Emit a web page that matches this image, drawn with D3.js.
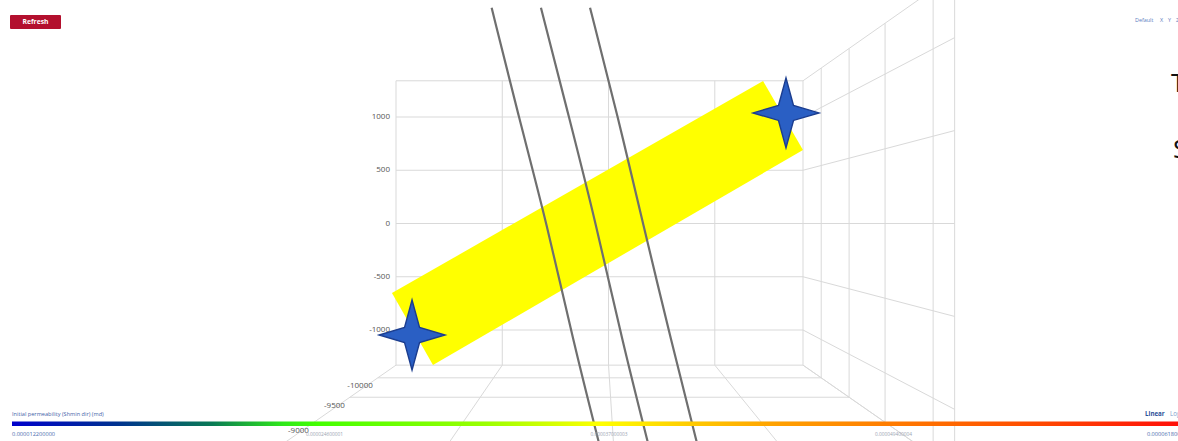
<!DOCTYPE html>
<html>
<head>
<meta charset="utf-8">
<script src="https://cdn.jsdelivr.net/npm/d3@7"></script>
<style>
  html, body { margin: 0; padding: 0; background: #ffffff; }
  svg { display: block; font-family: "Open Sans", "Noto Sans", sans-serif; }
</style>
</head>
<body>
<svg id="chart" width="1178" height="441"></svg>
<script>
// ---------------- data ----------------
const xExtent = [-2000, 1830];
const yExtent = [-1330, 1340];
const zExtent = [-10400, -8320];
const xTicks = [-1000, 0, 1000];
const yTicks = [-1000, -500, 0, 500, 1000];
const zTicks = [-10000, -9500, -9000, -8500];
const zLabelTicks = [-10000, -9500, -9000];

// wells, as [x, y] on the back plane
const well1 = [[-1100, 2025], [-845, 1000], [-580, 0], [-335, -1095], [-80, -2100]];
const well2 = [[-636, 2025], [-372, 1000], [-118, 0], [127, -1095], [381, -2100]];
const well3 = [[-174, 2025], [89, 1000], [324, 0], [588, -1095], [842, -2100]];

// yellow band corners [x, y]
const bandCorners = [[-2038, -653], [-1652, -1329], [1830, 690], [1454, 1338]];
// star markers [x, y]
const starPoints = [[-1849, -1047], [1670, 1038]];

// colour bar
const legendTitle = "Initial permeability (Shmin dir) (md)";
const legendMin = 0.0000122;
const legendMax = 0.0000618;
const legendLabels = ["0.000012200000", "0.000024600001", "0.000037000003", "0.000049400004", "0.000061800006"];
const legendColors = ["#0000cc", "#00338f", "#0a7a55", "#2fe81a", "#44ff00", "#99ff00", "#ffff00", "#ffc800", "#ffa000", "#ff7a00", "#ff4a00", "#ff0a0a"];
const legendStops = [0, 0.09, 0.17, 0.23, 0.26, 0.4, 0.5, 0.58, 0.65, 0.75, 0.87, 1];

// ---------------- projection ----------------
const svg = d3.select("#chart");
const VP = { x: 599.5, y: 223.5 };
const xs = d3.scaleLinear().domain(xExtent).range([-203.5, 203.5]);
const ys = d3.scaleLinear().domain([-1000, 1000]).range([106.5, -106.5]);
const zs = d3.scaleLinear().domain(zExtent).range([1, 0.573]); // inverse depth factor
function P(x, y, z) {
  const s = 1 / zs(z);
  return [VP.x + xs(x) * s, VP.y + ys(y) * s];
}
const [x0, x1] = xExtent, [y0, y1] = yExtent, [z0, z1] = zExtent;

svg.append("rect").attr("width", 1178).attr("height", 441).attr("fill", "#fff");

// ---------------- grid ----------------
const segs = [];
// back wall
[y0, ...yTicks, y1].forEach(y => segs.push([P(x0, y, z0), P(x1, y, z0)]));
[x0, ...xTicks, x1].forEach(x => segs.push([P(x, y0, z0), P(x, y1, z0)]));
// right wall
[y0, ...yTicks, y1].forEach(y => segs.push([P(x1, y, z0), P(x1, y, z1)]));
[...zTicks, z1].forEach(z => segs.push([P(x1, y0, z), P(x1, y1, z)]));
// floor
[x0, ...xTicks, x1].forEach(x => segs.push([P(x, y0, z0), P(x, y0, z1)]));
zTicks.forEach(z => segs.push([P(x0, y0, z), P(x1, y0, z)]));

svg.append("g").selectAll("line").data(segs).join("line")
  .attr("x1", d => d[0][0]).attr("y1", d => d[0][1])
  .attr("x2", d => d[1][0]).attr("y2", d => d[1][1])
  .attr("stroke", "#d9d9d9").attr("stroke-width", 1);

// axis labels
svg.append("g").selectAll("text").data(yTicks).join("text")
  .attr("x", d => P(x0, d, z0)[0] - 6)
  .attr("y", d => P(x0, d, z0)[1])
  .attr("text-anchor", "end").attr("dominant-baseline", "middle")
  .attr("font-size", 8).attr("fill", "#555")
  .text(d => d);

svg.append("g").selectAll("text").data(zLabelTicks).join("text")
  .attr("x", d => P(x0, y0, d)[0] - 5)
  .attr("y", d => P(x0, y0, d)[1] + 8.5)
  .attr("text-anchor", "end").attr("dominant-baseline", "middle")
  .attr("font-size", 8).attr("fill", "#555")
  .text(d => d);

// ---------------- band ----------------
svg.append("polygon")
  .attr("points", bandCorners.map(c => P(c[0], c[1], z0).join(",")).join(" "))
  .attr("fill", "#ffff00");

// ---------------- wells ----------------
const wellLine = d3.line().curve(d3.curveBasis);
svg.append("g").selectAll("path").data([well1, well2, well3]).join("path")
  .attr("d", d => wellLine(d.map(p => P(p[0], p[1], z0))))
  .attr("fill", "none").attr("stroke", "#6f6f6f").attr("stroke-width", 2.2);

// ---------------- stars ----------------
const starShape = [[0, -35], [7.5, -7.5], [33, 0], [7.5, 7.5], [0, 35], [-7.5, 7.5], [-33, 0], [-7.5, -7.5]];
const starLine = d3.line().curve(d3.curveLinearClosed);
svg.append("g").selectAll("path").data(starPoints).join("path")
  .attr("d", d => { const c = P(d[0], d[1], z0); return starLine(starShape.map(p => [c[0] + p[0], c[1] + p[1]])); })
  .attr("fill", "#2a5fc4").attr("stroke", "#1b3d8f").attr("stroke-width", 1.4).attr("stroke-linejoin", "miter");

// ---------------- colour bar ----------------
const defs = svg.append("defs");
const grad = defs.append("linearGradient").attr("id", "cbar").attr("x1", "0%").attr("x2", "100%");
grad.selectAll("stop").data(legendStops).join("stop")
  .attr("offset", d => (d * 100) + "%")
  .attr("stop-color", (d, i) => legendColors[i]);
svg.append("rect").attr("x", 12).attr("y", 421.5).attr("width", 1178).attr("height", 4.5).attr("fill", "url(#cbar)");

svg.append("text").attr("x", 12).attr("y", 416).attr("font-size", 5.6).attr("fill", "#3f63a8").text(legendTitle);

const lx = d3.scaleLinear().domain([legendMin, legendMax]).range([40, 1178]);
const legendVals = legendLabels.map((t, i) => legendMin + i * (legendMax - legendMin) / 4);
svg.append("g").selectAll("text").data(legendLabels).join("text")
  .attr("x", (d, i) => i === 0 ? 12 : (i === 4 ? 1190 : lx(legendVals[i])))
  .attr("y", 436)
  .attr("text-anchor", (d, i) => i === 0 ? "start" : (i === 4 ? "end" : "middle"))
  .attr("font-size", (d, i) => (i === 0 || i === 4) ? 5.6 : 4.8)
  .attr("fill", (d, i) => (i === 0 || i === 4) ? "#4a6cae" : "#9aa3b0")
  .text(d => d);

svg.append("text").attr("x", 1145).attr("y", 416).attr("font-size", 6.2).attr("font-weight", "bold").attr("fill", "#2c4f98").text("Linear");
svg.append("text").attr("x", 1170).attr("y", 416).attr("font-size", 6.2).attr("fill", "#7d9ccc").text("Log");

// ---------------- UI ----------------
svg.append("rect").attr("x", 10).attr("y", 15).attr("width", 51).attr("height", 14).attr("fill", "#b3102e").attr("rx", 1);
svg.append("text").attr("x", 35.5).attr("y", 22.5).attr("text-anchor", "middle").attr("dominant-baseline", "middle")
  .attr("font-size", 6.8).attr("font-weight", "bold").attr("fill", "#fff").text("Refresh");

const viewBtns = ["Default", "X", "Y", "Z"];
const viewX = [1135, 1160, 1168, 1176];
svg.append("g").selectAll("text").data(viewBtns).join("text")
  .attr("x", (d, i) => viewX[i]).attr("y", 22)
  .attr("font-size", 5.4).attr("fill", "#5a7cc0").text(d => d);

svg.append("text").attr("x", 1171).attr("y", 92).attr("font-size", 26).attr("fill", "#111").text("T");
svg.append("text").attr("x", 1173).attr("y", 158).attr("font-size", 26).attr("fill", "#111").text("S");
</script>
</body>
</html>
